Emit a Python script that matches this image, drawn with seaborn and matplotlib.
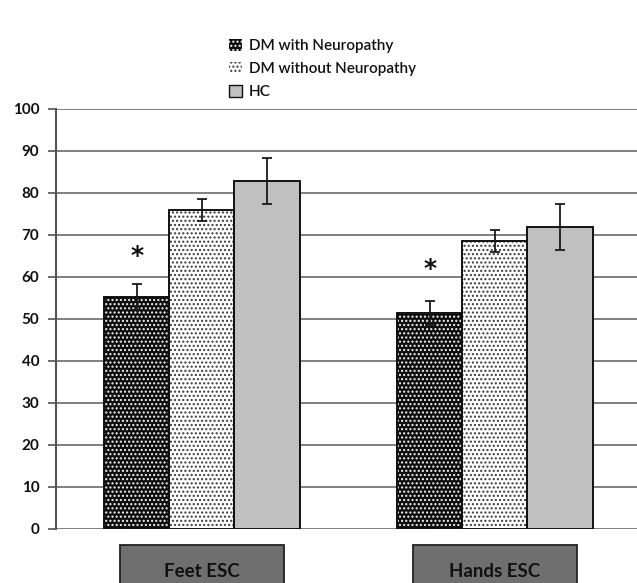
import pandas as pd
import seaborn as sns
import matplotlib.pyplot as plt
import matplotlib.transforms as mtransforms
from matplotlib.patches import Patch, Rectangle

# данные с картинки
sites = ['Feet ESC', 'Hands ESC']
groups = ['DM with Neuropathy', 'DM without Neuropathy', 'HC']
means = {
    'DM with Neuropathy': [55.3, 51.4],
    'DM without Neuropathy': [76.0, 68.5],
    'HC': [82.9, 72.0],
}
errs = {
    'DM with Neuropathy': [3.1, 2.8],
    'DM without Neuropathy': [2.6, 2.6],
    'HC': [5.4, 5.5],
}
star_y = [65, 62]          # где стоят звёздочки (над DM with Neuropathy)
yticks = list(range(0, 101, 10))

df = pd.DataFrame(
    [(s, g, means[g][i]) for g in groups for i, s in enumerate(sites)],
    columns=['site', 'group', 'value'],
)

sns.set_theme(style='white')
plt.rcParams['font.family'] = ['Lato', 'DejaVu Sans']
plt.rcParams['hatch.linewidth'] = 1.0

fig = plt.figure(figsize=(6.37, 5.83), dpi=100)
ax = fig.add_axes([56 / 637, 1 - 529 / 583, 1 - 56 / 637, 420 / 583])

sns.barplot(data=df, x='site', y='value', hue='group', order=sites,
            hue_order=groups, width=0.667, gap=0, legend=False, ax=ax,
            saturation=1, errorbar=None)

# заливка / штриховка
styles = {
    'DM with Neuropathy': dict(fc='#0e0e0e', hc='#f4f4f4', hatch='....'),
    'DM without Neuropathy': dict(fc='white', hc='#383838', hatch='....'),
    'HC': dict(fc='#c0c0c0', hc=None, hatch=None),
}
for grp, cont in zip(groups, ax.containers):
    st = styles[grp]
    for bar in cont:
        bar.set_facecolor(st['fc'])
        bar.set_zorder(2)
        if st['hatch']:
            bar.set_hatch(st['hatch'])
            bar.set_edgecolor(st['hc'])
            bar.set_linewidth(0)
            ax.add_patch(Rectangle(bar.get_xy(), bar.get_width(), bar.get_height(),
                                   fill=False, ec='#111111', lw=1.4, zorder=3))
        else:
            bar.set_edgecolor('#111111')
            bar.set_linewidth(1.4)
    xs = [b.get_x() + b.get_width() / 2 for b in cont]
    ax.errorbar(xs, means[grp], yerr=errs[grp], fmt='none', ecolor='#1a1a1a',
                elinewidth=1.3, capsize=3.3, capthick=1.3, zorder=4)
    if grp == groups[0]:
        for x, y in zip(xs, star_y):
            ax.text(x, y, '*', ha='center', va='center', fontsize=18,
                    fontweight='bold', color='#111111', family='DejaVu Sans')

ax.set_ylim(0, 100)
ax.set_xlim(-0.498, 1.485)
ax.set_yticks(yticks)
ax.set_yticklabels([str(t) for t in yticks], fontsize=11, color='#111111',
                   fontweight='bold')
ax.set_xticks([])
ax.set_xlabel('')
ax.set_ylabel('')
ax.yaxis.grid(True, color='#5e5e5e', lw=1.1)
ax.set_axisbelow(True)
ax.tick_params(axis='y', left=True, length=6, width=1.2, color='#555555', pad=6)
for s in ['top', 'right', 'bottom']:
    ax.spines[s].set_visible(False)
ax.spines['left'].set_color('#555555')
ax.spines['left'].set_linewidth(1.5)

# серые плашки с названиями
trans = mtransforms.blended_transform_factory(ax.transData, ax.transAxes)
for i, site in enumerate(sites):
    ax.add_patch(Rectangle((i - 0.28, -0.2), 0.56, 0.162, transform=trans,
                           fc='#6f6f6f', ec='#222222', lw=1.3, clip_on=False))
    ax.text(i, -0.102, site, transform=trans, ha='center', va='center',
            fontsize=13.5, fontweight='bold', color='#111111')

# легенда
handles = []
for grp in groups:
    st = styles[grp]
    if st['hatch']:
        handles.append(Patch(fc=st['fc'], ec=st['hc'], hatch=st['hatch'], lw=0))
    else:
        handles.append(Patch(fc=st['fc'], ec='#111111', lw=1))
leg = fig.legend(handles, groups, loc='upper left',
                 bbox_to_anchor=(229 / 637, 1 - 39 / 583), frameon=False,
                 fontsize=11, handlelength=0.85, handleheight=0.85,
                 handletextpad=0.45, labelspacing=0.55, borderpad=0,
                 borderaxespad=0)
for t in leg.get_texts():
    t.set_color('#111111')
    t.set_fontweight('semibold')

fig.savefig('out.png', dpi=100)
